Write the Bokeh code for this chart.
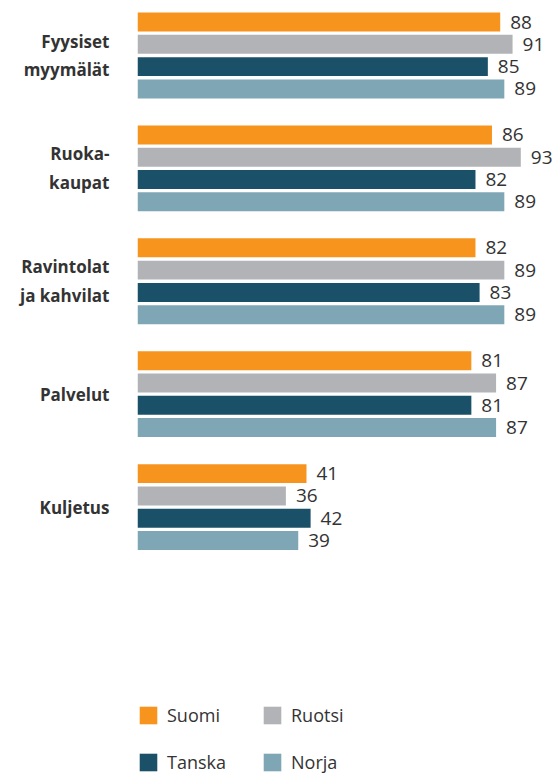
from bokeh.plotting import figure
from bokeh.models import ColumnDataSource, Range1d, FixedTicker, Legend, LegendItem, LabelSet
from bokeh.core.properties import value
from bokeh.embed import file_html
from bokeh.resources import INLINE

categories = ["Fyysiset\nmyymälät", "Ruoka-\nkaupat", "Ravintolat\nja kahvilat", "Palvelut", "Kuljetus"]
series = ["Suomi", "Ruotsi", "Tanska", "Norja"]
colors = ["#F7941D", "#B1B3B6", "#1B5168", "#7FA6B5"]
suomi = [88, 86, 82, 81, 41]
ruotsi = [91, 93, 89, 87, 36]
tanska = [85, 82, 83, 81, 42]
norja = [89, 89, 89, 87, 39]
values = [suomi, ruotsi, tanska, norja]

FONT = "Open Sans"
n = len(categories)
cat_y = [n - i for i in range(n)]  # top category highest
pitch = 0.1975
bar_h = 0.168

p = figure(width=557, height=774, output_backend="svg", toolbar_location=None,
           x_range=Range1d(0, 101.9), y_range=Range1d(n - 6.369, n + 0.487),
           min_border_left=137, min_border_right=0, min_border_top=0, min_border_bottom=0)
p.outline_line_color = None
p.xgrid.visible = False
p.ygrid.visible = False
p.xaxis.visible = False
p.background_fill_color = None
p.border_fill_color = "white"

renderers = {}
for s, (name, col, vals) in enumerate(zip(series, colors, values)):
    ys = [c + (1.5 - s) * pitch for c in cat_y]
    src = ColumnDataSource(dict(y=ys, v=vals, lab=[str(v) for v in vals]))
    r = p.hbar(y="y", left=0, right="v", height=bar_h, source=src, fill_color=col, line_color=None)
    renderers[name] = r
    lbl = LabelSet(x="v", y="y", text="lab", source=src, x_offset=10, text_baseline="middle",
                   text_font=value(FONT), text_font_size=value("19px"), text_color=value("#333333"))
    p.add_layout(lbl)

yax = p.yaxis[0]
yax.ticker = FixedTicker(ticks=cat_y)
yax.major_label_overrides = {y: c for y, c in zip(cat_y, categories)}
yax.axis_line_color = None
yax.major_tick_line_color = None
yax.minor_tick_line_color = None
yax.major_tick_out = 0
yax.major_tick_in = 0
yax.major_label_standoff = 28
yax.major_label_text_font = FONT
yax.major_label_text_font_style = "bold"
yax.major_label_text_font_size = "17px"
yax.major_label_text_color = "#333333"
yax.major_label_text_line_height = 1.25

# legend laid out column-major: first column Suomi/Tanska, second Ruotsi/Norja
legend_order = ["Suomi", "Tanska", "Ruotsi", "Norja"]
items = [LegendItem(label=nm, renderers=[renderers[nm]]) for nm in legend_order]
legend = Legend(items=items, location=(0, 0), ncols=2, orientation="vertical",
                glyph_width=22, glyph_height=22, label_standoff=8, spacing=23,
                label_width=71, label_height=22, padding=0, margin=0,
                border_line_color=None, background_fill_alpha=0,
                label_text_font=FONT, label_text_font_size="18px", label_text_color="#333333")
p.add_layout(legend)

open("out.html", "w").write(file_html(p, INLINE))
